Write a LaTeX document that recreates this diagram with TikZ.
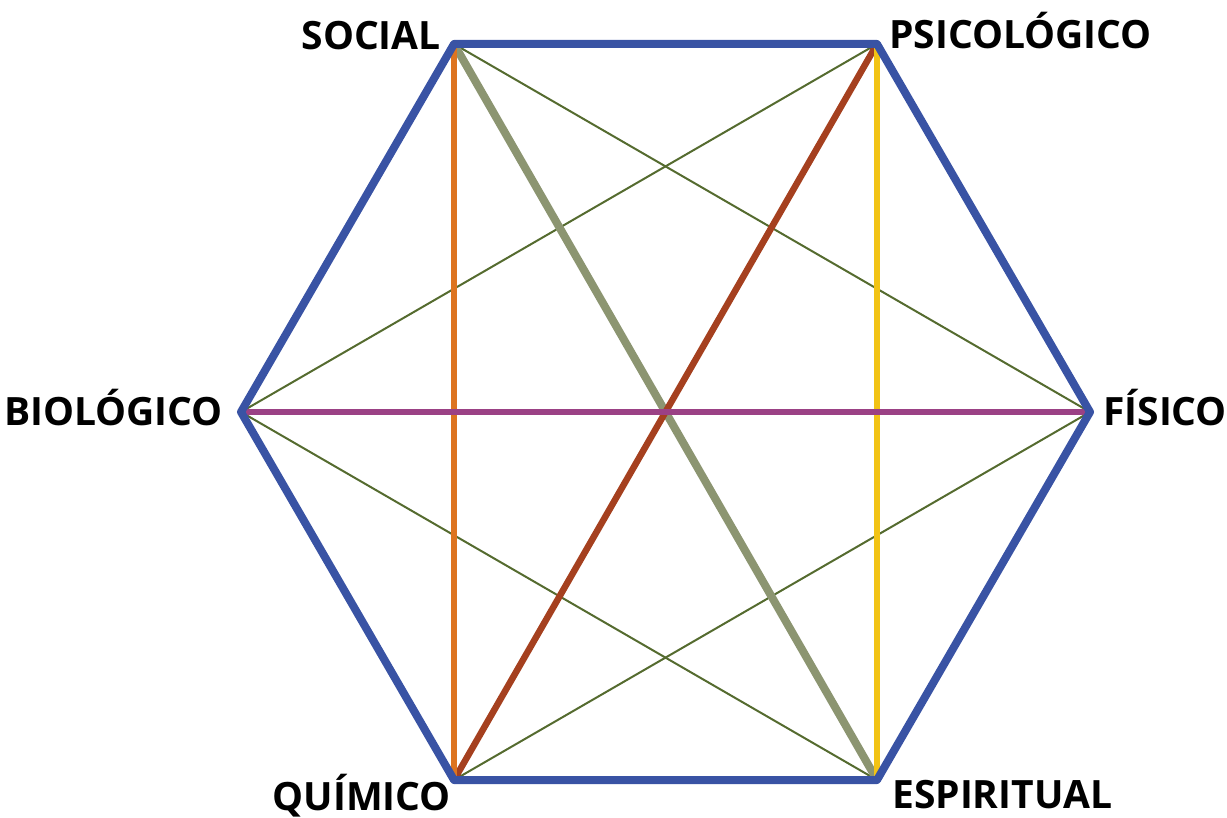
\documentclass[tikz,border=0pt]{standalone}
\usepackage{fontspec}
\setmainfont{Open Sans}
\definecolor{hexblue}{HTML}{3953A4}
\definecolor{lorange}{HTML}{DD7420}
\definecolor{lgray}{HTML}{8C9571}
\definecolor{lred}{HTML}{A5401F}
\definecolor{lyellow}{HTML}{F2C315}
\definecolor{lpurple}{HTML}{9B4185}
\definecolor{lgreen}{HTML}{556B2F}
\begin{document}
\begin{tikzpicture}[x=1pt,y=-1pt,
  lbl/.style={font=\fontsize{39}{41}\selectfont\bfseries, inner sep=0pt, text=black},
  thin link/.style={draw=lgreen, line width=2pt},
  thick link/.style={line width=6.5pt},
  hexline/.style={draw=hexblue, line width=8pt, line join=round}]
\useasboundingbox (0,0) rectangle (1227,818);
\coordinate (S) at (454,44);
\coordinate (P) at (877,44);
\coordinate (F) at (1090,412);
\coordinate (E) at (877,780);
\coordinate (Q) at (454,780);
\coordinate (B) at (241,412);
% thin links
\draw[thin link] (S) -- (F);
\draw[thin link] (P) -- (B);
\draw[thin link] (B) -- (E);
\draw[thin link] (Q) -- (F);
% thick links
\draw[thick link, draw=lgray, line width=8pt] (S) -- (E);
\draw[thick link, draw=lred] (Q) -- (P);
\draw[thick link, draw=lorange] (S) -- (Q);
\draw[thick link, draw=lyellow] (P) -- (E);
\draw[thick link, draw=lpurple] (B) -- (F);
% hexagon
\draw[hexline] (S) -- (P) -- (F) -- (E) -- (Q) -- (B) -- cycle;
% labels
\node[lbl, anchor=base east] (ls) at (441,50) {SOCIAL};
\node[lbl, anchor=base west] (lp) at (889,49) {PSICOLÓGICO};
\node[lbl, anchor=base east] (lb) at (223,425) {BIOLÓGICO};
\node[lbl, anchor=base west] (lf) at (1103,425) {FÍSICO};
\node[lbl, anchor=base east] (lq) at (451,810) {QUÍMICO};
\node[lbl, anchor=base west] (le) at (892,808) {ESPIRITUAL};
\end{tikzpicture}
\end{document}
